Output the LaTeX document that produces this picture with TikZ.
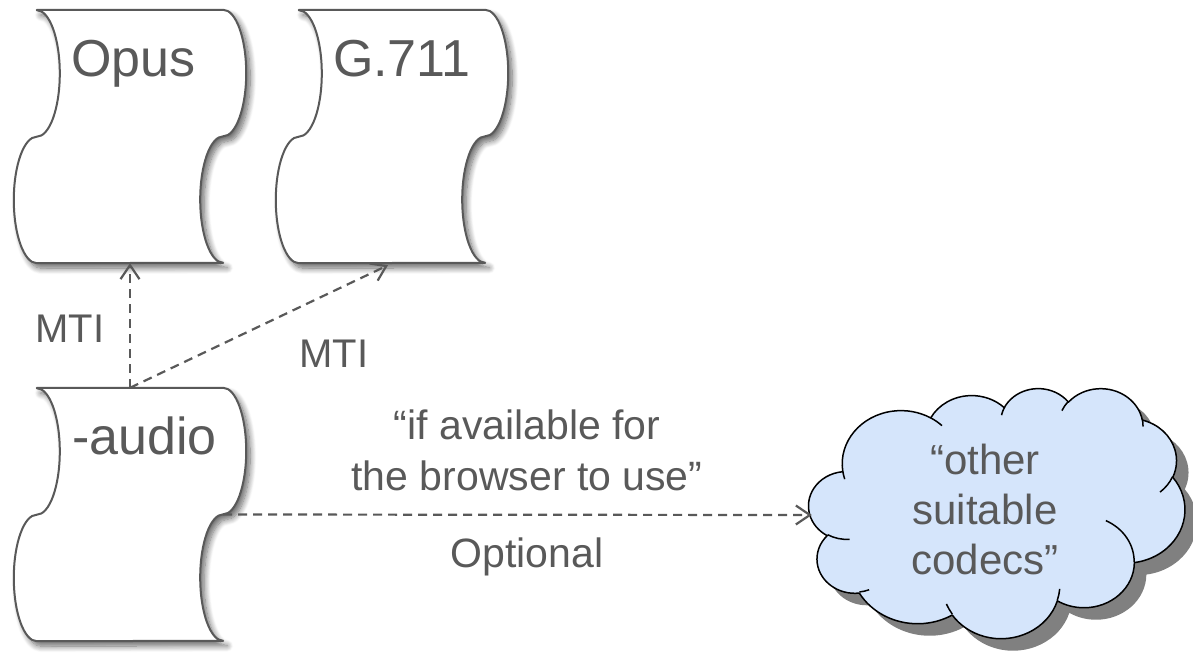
\documentclass[tikz,border=0pt]{standalone}
\usepackage{fontspec}
\setmainfont{Liberation Sans}
\usetikzlibrary{shadows,shadows.blur,arrows.meta,calc}
\definecolor{ink}{HTML}{595959}
\definecolor{cloudfill}{HTML}{D5E5FB}
\definecolor{cloudshade}{HTML}{808080}
\tikzset{
  scrollbox/.style={minimum width=186pt, minimum height=253pt, inner sep=0pt, draw=none},
  scrollline/.style={draw=ink, line width=2pt, fill=white, line join=round,
    blur shadow={shadow xshift=4pt, shadow yshift=-5pt, shadow blur radius=6pt, shadow blur steps=10, shadow opacity=60}},
  titletext/.style={text=ink, font=\fontsize{52pt}{60pt}\selectfont, inner sep=0pt, anchor=base west},
  lbltext/.style={text=ink, font=\fontsize{41pt}{51pt}\selectfont, inner sep=0pt, align=center},
  mtitext/.style={text=ink, font=\fontsize{40pt}{48pt}\selectfont, inner sep=0pt, anchor=base},
  conn/.style={draw=ink, line width=2.2pt, dash pattern=on 9pt off 6pt, -{Straight Barb[length=14pt, width=19pt]}},
  cloudbox/.style={minimum width=376pt, minimum height=250pt, inner sep=0pt, draw=none},
  cloudline/.style={draw=black, line width=1.5pt, line join=round},
}
\newcommand\drawscroll[1]{%
  \path[scrollline] (#1.north west) -- (#1.north east)
    arc[start angle=90, end angle=-90, x radius=23pt, y radius=63.25pt]
    arc[start angle=90, end angle=270, x radius=23pt, y radius=63.25pt]
    -- (#1.south west)
    arc[start angle=270, end angle=90, x radius=23pt, y radius=63.25pt]
    arc[start angle=-90, end angle=90, x radius=23pt, y radius=63.25pt]
    -- cycle;}
% elliptical arc given as in DrawingML: radii, start angle and sweep (visual angles)
\newcommand\dmlcalc[4]{%
  \pgfmathparse{atan2((#1)*sin(#3),(#2)*cos(#3))}\global\let\dmlA\pgfmathresult
  \pgfmathparse{atan2((#1)*sin((#3)+(#4)),(#2)*cos((#3)+(#4)))}\global\let\dmlB\pgfmathresult
  \pgfmathparse{mod(\dmlB-\dmlA+720,360)}\global\let\dmlD\pgfmathresult}
\newcommand\da[4]{\pgfextra{\dmlcalc{#1}{#2}{#3}{#4}} arc[start angle=\dmlA, delta angle=\dmlD, x radius=#1, y radius=#2]}
\begin{document}
\begin{tikzpicture}[x=1pt, y=1pt]
\useasboundingbox (0,0) rectangle (1193,657);
% scroll frames
\node[scrollbox] (opus) at (130, 520.5) {};
\node[scrollbox] (g711) at (392, 520.5) {};
\node[scrollbox] (audio) at (130, 142.5) {};
\drawscroll{opus}
\drawscroll{g711}
\drawscroll{audio}
\node[titletext] (opuslbl) at ($(opus.north west)+(34,-67)$) {Opus};
\node[titletext] (g711lbl) at ($(g711.north west)+(34,-67)$) {G.711};
\node[titletext] (audiolbl) at ($(audio.north west)+(35,-67)$) {-audio};
% cloud
\node[cloudbox] (cloud) at (997, 144) {};
\begin{scope}[shift={(cloud.north west)}, x=0.870370pt, y=-0.578704pt]
\path[cloudline, fill=cloudfill,
  preaction={fill=cloudshade, draw=none, transform canvas={xshift=12pt, yshift=-12pt}}]
  (39.00,143.70)
  \da{67.53}{91.90}{-190.48748}{123.78053}
  \da{53.33}{72.67}{-144.10238}{89.94523}
  \da{43.65}{59.45}{-145.80792}{99.72302}
  \da{48.57}{65.95}{-130.98607}{117.24173}
  \da{53.33}{72.73}{-78.70888}{109.02692}
  \da{67.75}{92.20}{-46.26725}{130.269}
  \da{57.85}{78.67}{0.62502}{114.03333}
  \da{67.52}{92.15}{22.4516}{115.17255}
  \da{77.20}{105.43}{66.24263}{75.71102}
  \da{43.60}{59.18}{-274.94208}{146.73557}
  \da{43.45}{59.45}{-246.8285}{152.51885}
  -- cycle;
\path[cloudline]
  (46.93,261.77) \da{43.45}{59.45}{86.742}{26.4295}
  (69.28,348.99) \da{43.60}{59.18}{73.61047}{11.44747}
  (164.78,390.90) \da{67.52}{92.15}{137.62415}{14.0811}
  (288.27,347.51) \da{67.52}{92.15}{6.45327}{15.99835}
  (341.29,229.54) \da{57.85}{78.67}{-70.29235}{70.91737}
  (417.98,153.54) \da{53.33}{72.73}{30.31803}{27.7515}
  (383.24,54.26) \da{48.57}{65.95}{-13.74433}{14.85933}
  (290.78,39.52) \da{48.57}{65.95}{-149.18145}{18.1877}
  (221.41,47.20) \da{43.65}{59.45}{-163.49427}{17.69992}
  (140.00,51.92) \da{67.53}{91.90}{-66.70695}{12.31935}
  (41.27,157.89) \da{67.53}{91.90}{157.65435}{11.85817};
\end{scope}
\node[lbltext, font=\fontsize{42pt}{50pt}\selectfont, anchor=base] (cloudlbl) at (985, 83) {“other\\suitable\\codecs”};
% connectors
\draw[conn] (audio.north) -- (opus.south);
\draw[conn] (audio.north) -- ($(g711.south)+(-4,-2)$);
\draw[conn] (audio.east) -- ($(cloud.west)+(3,-2)$);
% labels
\node[mtitext] (mti1) at (70, 315) {MTI};
\node[mtitext] (mti2) at (334, 290) {MTI};
\node[lbltext, anchor=base] (cond) at (527, 167) {“if available for\\the browser to use”};
\node[lbltext, anchor=base] (opt) at (527, 90) {Optional};
\end{tikzpicture}
\end{document}
